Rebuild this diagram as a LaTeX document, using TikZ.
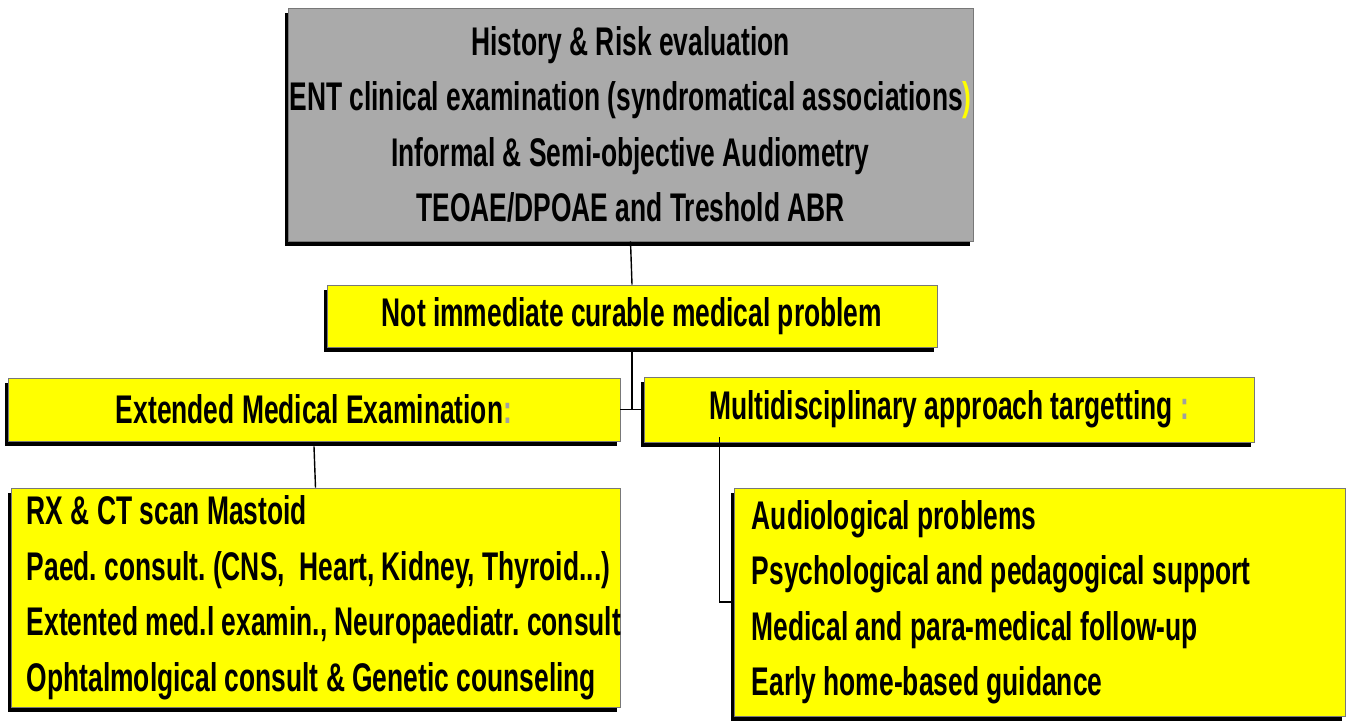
\documentclass[tikz,border=0pt]{standalone}
\usepackage{fontspec}
\setmainfont{Liberation Sans}[FakeStretch=0.66]
\usetikzlibrary{shadows,calc}
\definecolor{boxgray}{RGB}{170,170,170}
\definecolor{boxyellow}{RGB}{255,255,0}
\definecolor{colgray}{RGB}{160,160,160}
\definecolor{edgegray}{RGB}{120,120,120}
\begin{document}
\frenchspacing
\begin{tikzpicture}[x=1pt,y=-1pt,
  txt/.style={font=\fontsize{40}{55.5}\selectfont\bfseries},
  box/.style={draw=edgegray, line width=0.8pt, inner sep=0pt,
    general shadow={fill=black, shadow xshift=-3pt, shadow yshift=-5pt}, txt},
  graybox/.style={box, fill=boxgray, align=center},
  ybox/.style={box, fill=boxyellow, align=center},
  listtxt/.style={txt, align=left, inner sep=0pt, anchor=west},
  conn/.style={draw=black, line width=1.4pt}]
\useasboundingbox (0,0) rectangle (1348,720);
\fill[white] (0,0) rectangle (1348,720);

\node[graybox, minimum width=685pt, minimum height=233pt] (top) at (630.5,124.5)
  {History \& Risk evaluation\\
   ENT clinical examination (syndromatical associations\textcolor{boxyellow}{)}\\
   Informal \& Semi-objective Audiometry\\
   TEOAE/DPOAE and Treshold ABR};

\node[ybox, minimum width=610pt, minimum height=62pt] (mid) at (632,316)
  {Not immediate curable medical problem};

\node[ybox, minimum width=612pt, minimum height=63pt] (lh) at (314,409.5)
  {Extended Medical Examination\textcolor{colgray}{:}};

\node[ybox, minimum width=610pt, minimum height=65pt] (rh) at (949,409.5)
  {Multidisciplinary approach targetting \textcolor{colgray}{:}};

\node[box, fill=boxyellow, minimum width=609pt, minimum height=219pt] (lb) at (315.5,597.5) {};
\node[listtxt] (lbt) at ([xshift=16pt]lb.west)
  {RX \& CT scan Mastoid\\
   Paed. consult. (CNS,\ \ Heart, Kidney, Thyroid...)\\
   Extented med.l examin., Neuropaediatr. consult\\
   Ophtalmolgical consult \& Genetic counseling};

\node[box, fill=boxyellow, minimum width=611pt, minimum height=228pt] (rb) at (1039.5,602) {};
\node[listtxt] (rbt) at ([xshift=18pt]rb.west)
  {Audiological problems\\
   Psychological and pedagogical support\\
   Medical and para-medical follow-up\\
   Early home-based guidance};

\coordinate (j) at (mid.south |- lh.east);
\draw[conn] (top.south) -- (mid.north);
\draw[conn] ([yshift=-5pt]mid.south) -- (j);
\draw[conn] (lh.east) -- (rh.west);
\draw[conn] ([yshift=-5pt]lh.south) -- (lb.north);
\coordinate (rv) at ($(rh.south west)+(76,-5)$);
\draw[conn] (rv) |- (rb.west);
\end{tikzpicture}
\end{document}
